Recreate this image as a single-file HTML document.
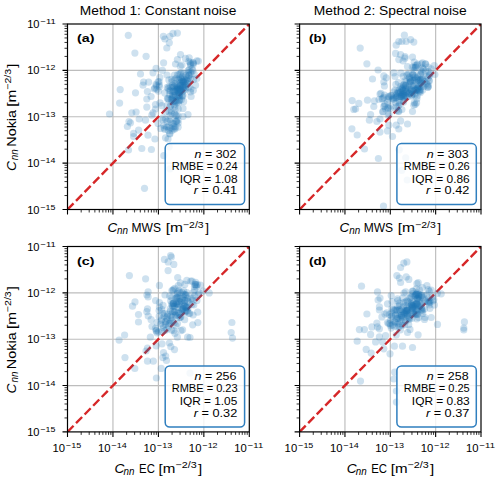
<!DOCTYPE html>
<html><head><meta charset="utf-8"><style>
html,body{margin:0;padding:0;background:#fff;width:500px;height:480px;overflow:hidden}
svg{display:block}
text{font-family:"Liberation Sans", sans-serif;fill:#000}
</style></head><body>
<svg width="500" height="480" viewBox="0 0 500 480">
<rect width="500" height="480" fill="#fff"/>
<path d="M112.95 24.0V209.5M67.5 163.12H249.3M158.40 24.0V209.5M67.5 116.75H249.3M203.85 24.0V209.5M67.5 70.38H249.3" stroke="#bdbdbd" stroke-width="1.15" fill="none"/>
<svg x="67.5" y="24.0" width="181.80" height="185.50" overflow="hidden"><line x1="-45.45" y1="231.88" x2="227.25" y2="-46.38" stroke="#d62728" stroke-width="2.4" stroke-dasharray="8.7 3.53" stroke-dashoffset="-3.72"/></svg>
<g fill="#1f77b4" fill-opacity="0.22"><circle cx="128.3" cy="35.3" r="3.6"/><circle cx="134.9" cy="53.1" r="3.6"/><circle cx="146.1" cy="56.3" r="3.6"/><circle cx="163.4" cy="36.3" r="3.6"/><circle cx="164.9" cy="39.0" r="3.6"/><circle cx="169.9" cy="36.3" r="3.6"/><circle cx="173.0" cy="33.4" r="3.6"/><circle cx="177.4" cy="33.1" r="3.6"/><circle cx="169.3" cy="42.8" r="3.6"/><circle cx="166.8" cy="48.0" r="3.6"/><circle cx="180.5" cy="54.6" r="3.6"/><circle cx="185.5" cy="58.4" r="3.6"/><circle cx="177.4" cy="59.6" r="3.6"/><circle cx="163.6" cy="62.8" r="3.6"/><circle cx="175.5" cy="64.0" r="3.6"/><circle cx="140.5" cy="74.0" r="3.6"/><circle cx="153.0" cy="72.8" r="3.6"/><circle cx="156.1" cy="68.4" r="3.6"/><circle cx="162.4" cy="70.3" r="3.6"/><circle cx="143.6" cy="82.1" r="3.6"/><circle cx="148.6" cy="82.1" r="3.6"/><circle cx="193.0" cy="62.8" r="3.6"/><circle cx="196.8" cy="60.9" r="3.6"/><circle cx="189.2" cy="57.8" r="3.6"/><circle cx="194.2" cy="74.0" r="3.6"/><circle cx="190.5" cy="79.0" r="3.6"/><circle cx="195.5" cy="85.2" r="3.6"/><circle cx="190.5" cy="92.0" r="3.6"/><circle cx="191.1" cy="96.5" r="3.6"/><circle cx="183.0" cy="108.4" r="3.6"/><circle cx="120.2" cy="89.6" r="3.6"/><circle cx="119.6" cy="103.1" r="3.6"/><circle cx="109.5" cy="114.0" r="3.6"/><circle cx="127.4" cy="126.5" r="3.6"/><circle cx="129.0" cy="121.5" r="3.6"/><circle cx="135.5" cy="92.8" r="3.6"/><circle cx="143.0" cy="85.2" r="3.6"/><circle cx="147.4" cy="91.5" r="3.6"/><circle cx="146.8" cy="99.0" r="3.6"/><circle cx="151.1" cy="96.5" r="3.6"/><circle cx="146.8" cy="107.1" r="3.6"/><circle cx="155.5" cy="104.6" r="3.6"/><circle cx="154.2" cy="89.0" r="3.6"/><circle cx="131.8" cy="112.8" r="3.6"/><circle cx="136.1" cy="112.1" r="3.6"/><circle cx="139.2" cy="119.0" r="3.6"/><circle cx="130.5" cy="122.8" r="3.6"/><circle cx="145.5" cy="120.2" r="3.6"/><circle cx="153.0" cy="112.8" r="3.6"/><circle cx="151.8" cy="115.2" r="3.6"/><circle cx="138.6" cy="130.2" r="3.6"/><circle cx="133.6" cy="133.4" r="3.6"/><circle cx="133.6" cy="136.5" r="3.6"/><circle cx="148.0" cy="135.2" r="3.6"/><circle cx="154.9" cy="139.0" r="3.6"/><circle cx="158.0" cy="123.4" r="3.6"/><circle cx="160.5" cy="128.4" r="3.6"/><circle cx="165.5" cy="137.8" r="3.6"/><circle cx="168.0" cy="139.0" r="3.6"/><circle cx="169.9" cy="134.0" r="3.6"/><circle cx="169.9" cy="121.5" r="3.6"/><circle cx="165.5" cy="119.0" r="3.6"/><circle cx="171.8" cy="127.8" r="3.6"/><circle cx="178.0" cy="120.2" r="3.6"/><circle cx="183.0" cy="116.5" r="3.6"/><circle cx="155.5" cy="109.0" r="3.6"/><circle cx="188.0" cy="114.6" r="3.6"/><circle cx="128.5" cy="150.0" r="3.6"/><circle cx="141.8" cy="148.5" r="3.6"/><circle cx="151.4" cy="149.5" r="3.6"/><circle cx="163.8" cy="155.7" r="3.6"/><circle cx="169.2" cy="146.8" r="3.6"/><circle cx="170.0" cy="168.8" r="3.6"/><circle cx="144.5" cy="188.3" r="3.6"/><circle cx="182.1" cy="96.5" r="3.6"/><circle cx="169.4" cy="91.0" r="3.6"/><circle cx="176.9" cy="102.7" r="3.6"/><circle cx="185.3" cy="84.6" r="3.6"/><circle cx="178.9" cy="95.4" r="3.6"/><circle cx="182.2" cy="91.7" r="3.6"/><circle cx="181.9" cy="80.2" r="3.6"/><circle cx="185.1" cy="85.3" r="3.6"/><circle cx="177.0" cy="89.8" r="3.6"/><circle cx="181.6" cy="79.4" r="3.6"/><circle cx="177.3" cy="89.4" r="3.6"/><circle cx="178.3" cy="109.0" r="3.6"/><circle cx="177.4" cy="86.7" r="3.6"/><circle cx="179.2" cy="93.3" r="3.6"/><circle cx="193.3" cy="90.3" r="3.6"/><circle cx="179.6" cy="99.9" r="3.6"/><circle cx="171.7" cy="79.3" r="3.6"/><circle cx="178.8" cy="92.4" r="3.6"/><circle cx="181.3" cy="72.6" r="3.6"/><circle cx="173.7" cy="86.7" r="3.6"/><circle cx="180.1" cy="89.0" r="3.6"/><circle cx="175.8" cy="89.2" r="3.6"/><circle cx="181.3" cy="99.8" r="3.6"/><circle cx="172.4" cy="92.1" r="3.6"/><circle cx="172.1" cy="98.1" r="3.6"/><circle cx="167.9" cy="98.6" r="3.6"/><circle cx="174.1" cy="101.6" r="3.6"/><circle cx="183.7" cy="73.3" r="3.6"/><circle cx="180.4" cy="91.4" r="3.6"/><circle cx="177.5" cy="74.7" r="3.6"/><circle cx="175.1" cy="91.4" r="3.6"/><circle cx="182.3" cy="94.9" r="3.6"/><circle cx="189.2" cy="69.6" r="3.6"/><circle cx="170.8" cy="104.9" r="3.6"/><circle cx="187.8" cy="81.5" r="3.6"/><circle cx="183.1" cy="95.5" r="3.6"/><circle cx="171.9" cy="81.9" r="3.6"/><circle cx="176.9" cy="87.5" r="3.6"/><circle cx="176.1" cy="100.4" r="3.6"/><circle cx="180.3" cy="66.2" r="3.6"/><circle cx="178.5" cy="103.0" r="3.6"/><circle cx="182.4" cy="81.8" r="3.6"/><circle cx="179.5" cy="96.8" r="3.6"/><circle cx="175.9" cy="101.8" r="3.6"/><circle cx="177.9" cy="88.1" r="3.6"/><circle cx="179.9" cy="88.3" r="3.6"/><circle cx="188.5" cy="72.6" r="3.6"/><circle cx="187.6" cy="83.8" r="3.6"/><circle cx="183.7" cy="90.1" r="3.6"/><circle cx="174.9" cy="106.5" r="3.6"/><circle cx="174.5" cy="75.1" r="3.6"/><circle cx="169.1" cy="112.1" r="3.6"/><circle cx="183.5" cy="81.6" r="3.6"/><circle cx="185.1" cy="89.7" r="3.6"/><circle cx="178.9" cy="90.5" r="3.6"/><circle cx="185.6" cy="82.0" r="3.6"/><circle cx="188.4" cy="78.5" r="3.6"/><circle cx="161.8" cy="105.7" r="3.6"/><circle cx="189.1" cy="75.5" r="3.6"/><circle cx="180.4" cy="78.0" r="3.6"/><circle cx="184.0" cy="86.9" r="3.6"/><circle cx="182.8" cy="85.5" r="3.6"/><circle cx="174.8" cy="85.6" r="3.6"/><circle cx="174.9" cy="83.6" r="3.6"/><circle cx="172.2" cy="87.3" r="3.6"/><circle cx="193.5" cy="79.7" r="3.6"/><circle cx="179.0" cy="89.2" r="3.6"/><circle cx="173.8" cy="95.5" r="3.6"/><circle cx="182.8" cy="88.1" r="3.6"/><circle cx="170.5" cy="90.7" r="3.6"/><circle cx="171.1" cy="99.2" r="3.6"/><circle cx="179.1" cy="74.3" r="3.6"/><circle cx="190.9" cy="89.1" r="3.6"/><circle cx="186.1" cy="75.4" r="3.6"/><circle cx="190.2" cy="62.7" r="3.6"/><circle cx="172.8" cy="100.9" r="3.6"/><circle cx="183.7" cy="82.5" r="3.6"/><circle cx="179.3" cy="100.6" r="3.6"/><circle cx="169.9" cy="115.7" r="3.6"/><circle cx="181.3" cy="82.1" r="3.6"/><circle cx="180.0" cy="89.3" r="3.6"/><circle cx="180.2" cy="90.0" r="3.6"/><circle cx="192.8" cy="70.7" r="3.6"/><circle cx="174.9" cy="79.8" r="3.6"/><circle cx="183.6" cy="101.4" r="3.6"/><circle cx="177.4" cy="96.7" r="3.6"/><circle cx="167.5" cy="98.4" r="3.6"/><circle cx="183.6" cy="80.3" r="3.6"/><circle cx="188.2" cy="70.6" r="3.6"/><circle cx="188.8" cy="87.2" r="3.6"/><circle cx="169.0" cy="86.5" r="3.6"/><circle cx="174.2" cy="104.6" r="3.6"/><circle cx="169.7" cy="94.4" r="3.6"/><circle cx="186.8" cy="77.3" r="3.6"/><circle cx="182.4" cy="81.3" r="3.6"/><circle cx="196.9" cy="78.5" r="3.6"/><circle cx="182.3" cy="76.9" r="3.6"/><circle cx="172.5" cy="94.8" r="3.6"/><circle cx="176.9" cy="85.5" r="3.6"/><circle cx="172.6" cy="85.4" r="3.6"/><circle cx="180.1" cy="83.9" r="3.6"/><circle cx="181.1" cy="85.9" r="3.6"/><circle cx="185.1" cy="88.1" r="3.6"/><circle cx="179.9" cy="85.5" r="3.6"/><circle cx="179.3" cy="80.2" r="3.6"/><circle cx="188.8" cy="75.2" r="3.6"/><circle cx="180.5" cy="73.6" r="3.6"/><circle cx="179.5" cy="95.6" r="3.6"/><circle cx="168.9" cy="79.9" r="3.6"/><circle cx="178.4" cy="96.0" r="3.6"/><circle cx="191.1" cy="73.9" r="3.6"/><circle cx="175.9" cy="78.3" r="3.6"/><circle cx="177.4" cy="90.8" r="3.6"/><circle cx="168.2" cy="88.6" r="3.6"/><circle cx="165.8" cy="111.6" r="3.6"/><circle cx="190.8" cy="71.9" r="3.6"/><circle cx="182.8" cy="86.3" r="3.6"/><circle cx="180.4" cy="85.5" r="3.6"/><circle cx="173.2" cy="91.3" r="3.6"/><circle cx="172.6" cy="97.5" r="3.6"/><circle cx="184.0" cy="79.1" r="3.6"/><circle cx="175.3" cy="95.1" r="3.6"/><circle cx="187.3" cy="80.5" r="3.6"/><circle cx="182.0" cy="65.0" r="3.6"/><circle cx="170.6" cy="87.1" r="3.6"/><circle cx="178.5" cy="90.2" r="3.6"/><circle cx="168.8" cy="99.2" r="3.6"/><circle cx="184.3" cy="82.8" r="3.6"/><circle cx="178.3" cy="79.3" r="3.6"/><circle cx="174.2" cy="100.9" r="3.6"/><circle cx="192.1" cy="68.9" r="3.6"/><circle cx="171.8" cy="99.8" r="3.6"/><circle cx="183.4" cy="87.6" r="3.6"/><circle cx="186.4" cy="79.5" r="3.6"/><circle cx="173.9" cy="90.9" r="3.6"/><circle cx="188.8" cy="61.3" r="3.6"/><circle cx="190.4" cy="65.0" r="3.6"/><circle cx="193.4" cy="64.3" r="3.6"/><circle cx="193.4" cy="62.8" r="3.6"/><circle cx="190.7" cy="64.0" r="3.6"/><circle cx="198.4" cy="61.1" r="3.6"/><circle cx="159.2" cy="84.7" r="3.6"/><circle cx="156.5" cy="85.7" r="3.6"/><circle cx="158.5" cy="91.2" r="3.6"/><circle cx="160.0" cy="102.9" r="3.6"/><circle cx="164.8" cy="92.9" r="3.6"/><circle cx="167.2" cy="87.3" r="3.6"/><circle cx="156.0" cy="84.3" r="3.6"/><circle cx="159.4" cy="86.7" r="3.6"/><circle cx="159.8" cy="77.4" r="3.6"/><circle cx="167.0" cy="75.0" r="3.6"/><circle cx="156.8" cy="89.3" r="3.6"/><circle cx="158.1" cy="81.8" r="3.6"/><circle cx="154.8" cy="88.0" r="3.6"/><circle cx="159.1" cy="81.7" r="3.6"/><circle cx="176.2" cy="115.8" r="3.6"/><circle cx="169.7" cy="133.5" r="3.6"/><circle cx="163.9" cy="125.5" r="3.6"/><circle cx="170.1" cy="128.0" r="3.6"/><circle cx="178.1" cy="127.2" r="3.6"/><circle cx="175.1" cy="96.1" r="3.6"/><circle cx="175.2" cy="109.2" r="3.6"/><circle cx="170.2" cy="106.3" r="3.6"/><circle cx="173.7" cy="123.6" r="3.6"/><circle cx="167.1" cy="121.4" r="3.6"/><circle cx="176.0" cy="115.4" r="3.6"/><circle cx="162.9" cy="120.0" r="3.6"/><circle cx="172.0" cy="130.5" r="3.6"/><circle cx="168.3" cy="130.4" r="3.6"/><circle cx="164.8" cy="129.5" r="3.6"/><circle cx="167.9" cy="127.0" r="3.6"/><circle cx="175.0" cy="129.0" r="3.6"/><circle cx="171.7" cy="112.9" r="3.6"/><circle cx="176.7" cy="122.1" r="3.6"/><circle cx="164.2" cy="128.1" r="3.6"/><circle cx="174.0" cy="126.4" r="3.6"/><circle cx="178.1" cy="115.8" r="3.6"/><circle cx="166.9" cy="105.5" r="3.6"/><circle cx="175.3" cy="127.2" r="3.6"/><circle cx="174.4" cy="113.9" r="3.6"/><circle cx="178.2" cy="123.1" r="3.6"/><circle cx="175.8" cy="121.5" r="3.6"/><circle cx="171.2" cy="111.0" r="3.6"/><circle cx="176.6" cy="120.6" r="3.6"/><circle cx="166.6" cy="127.0" r="3.6"/><circle cx="173.9" cy="128.9" r="3.6"/><circle cx="169.9" cy="119.6" r="3.6"/><circle cx="163.0" cy="117.9" r="3.6"/><circle cx="171.9" cy="123.2" r="3.6"/></g>
<rect x="67.5" y="24.0" width="181.80" height="185.50" fill="none" stroke="#000" stroke-width="1.2"/>
<path d="M67.50 209.5v5M67.5 209.50h-5M112.95 209.5v5M67.5 163.12h-5M158.40 209.5v5M67.5 116.75h-5M203.85 209.5v5M67.5 70.38h-5M249.30 209.5v5M67.5 24.00h-5" stroke="#000" stroke-width="1.1"/>
<path d="M81.18 209.5v3M67.5 195.54h-3M89.19 209.5v3M67.5 187.37h-3M94.86 209.5v3M67.5 181.58h-3M99.27 209.5v3M67.5 177.09h-3M102.87 209.5v3M67.5 173.41h-3M105.91 209.5v3M67.5 170.31h-3M108.55 209.5v3M67.5 167.62h-3M110.87 209.5v3M67.5 165.25h-3M126.63 209.5v3M67.5 149.16h-3M134.64 209.5v3M67.5 141.00h-3M140.31 209.5v3M67.5 135.20h-3M144.72 209.5v3M67.5 130.71h-3M148.32 209.5v3M67.5 127.04h-3M151.36 209.5v3M67.5 123.93h-3M154.00 209.5v3M67.5 121.24h-3M156.32 209.5v3M67.5 118.87h-3M172.08 209.5v3M67.5 102.79h-3M180.09 209.5v3M67.5 94.62h-3M185.76 209.5v3M67.5 88.83h-3M190.17 209.5v3M67.5 84.34h-3M193.77 209.5v3M67.5 80.66h-3M196.81 209.5v3M67.5 77.56h-3M199.45 209.5v3M67.5 74.87h-3M201.77 209.5v3M67.5 72.50h-3M217.53 209.5v3M67.5 56.41h-3M225.54 209.5v3M67.5 48.25h-3M231.21 209.5v3M67.5 42.45h-3M235.62 209.5v3M67.5 37.96h-3M239.22 209.5v3M67.5 34.29h-3M242.26 209.5v3M67.5 31.18h-3M244.90 209.5v3M67.5 28.49h-3M247.22 209.5v3M67.5 26.12h-3" stroke="#000" stroke-width="0.8"/>
<g transform="translate(79.79 14.50) scale(1.1098 1)"><text font-size="12.4">Method 1: Constant noise</text></g>
<g transform="translate(27.14 213.50) scale(1.0182 1)"><text font-size="10.9">10</text></g>
<g transform="translate(40.45 209.60) scale(1.1059 1)"><text font-size="8.0">−15</text></g>
<g transform="translate(27.14 167.12) scale(1.0182 1)"><text font-size="10.9">10</text></g>
<g transform="translate(40.45 163.22) scale(1.1059 1)"><text font-size="8.0">−14</text></g>
<g transform="translate(27.14 120.75) scale(1.0182 1)"><text font-size="10.9">10</text></g>
<g transform="translate(40.45 116.85) scale(1.1059 1)"><text font-size="8.0">−13</text></g>
<g transform="translate(27.14 74.38) scale(1.0182 1)"><text font-size="10.9">10</text></g>
<g transform="translate(40.45 70.47) scale(1.1059 1)"><text font-size="8.0">−12</text></g>
<g transform="translate(27.14 28.00) scale(1.0182 1)"><text font-size="10.9">10</text></g>
<g transform="translate(40.41 24.10) scale(1.1750 1)"><text font-size="8.0">−11</text></g>
<g transform="translate(107.50 232.30) scale(1.0667 1)"><text font-size="12.6" font-style="italic">C</text></g>
<g transform="translate(117.07 234.40) scale(0.9318 1)"><text font-size="10.6" font-style="italic">nn</text></g>
<g transform="translate(131.54 232.30) scale(0.9573 1)"><text font-size="12.6">MWS</text></g>
<g transform="translate(165.67 232.30) scale(1.2327 1)"><text font-size="12.6">[m</text></g>
<g transform="translate(183.03 227.90) scale(1.1471 1)"><text font-size="9.1">−2/3</text></g>
<g transform="translate(205.20 232.30) scale(1.0800 1)"><text font-size="12.6">]</text></g>
<g transform="translate(15.90 171.02) rotate(-90) scale(1.0909 1)"><text font-size="12.6" font-style="italic">C</text></g>
<g transform="translate(18.10 160.13) rotate(-90) scale(0.9273 1)"><text font-size="10.6" font-style="italic">nn</text></g>
<g transform="translate(15.90 146.74) rotate(-90) scale(1.1424 1)"><text font-size="12.6">Nokia</text></g>
<g transform="translate(15.90 106.72) rotate(-90) scale(1.2163 1)"><text font-size="12.6">[m</text></g>
<g transform="translate(11.30 89.78) rotate(-90) scale(1.1647 1)"><text font-size="9.1">−2/3</text></g>
<g transform="translate(15.90 67.80) rotate(-90) scale(1.1600 1)"><text font-size="12.6">]</text></g>
<g transform="translate(76.98 42.40) scale(1.2308 1)"><text font-size="11.6" font-weight="bold">(a)</text></g>
<rect x="165.20" y="143.60" width="79.40" height="61.00" rx="4.5" fill="#fff" fill-opacity="0.8" stroke="#2f7fbf" stroke-width="1.5"/>
<g transform="translate(194.59 157.60) scale(1.2209 1)"><text font-size="10.2"><tspan font-style="italic">n</tspan> = 302</text></g>
<g transform="translate(171.69 169.60) scale(1.0828 1)"><text font-size="10.2">RMBE = 0.24</text></g>
<g transform="translate(179.73 183.00) scale(1.1667 1)"><text font-size="10.2">IQR = 1.08</text></g>
<g transform="translate(193.79 194.30) scale(1.2380 1)"><text font-size="10.2"><tspan font-style="italic">r</tspan> = 0.41</text></g>
<path d="M344.95 24.0V209.5M299.6 163.12H481.0M390.30 24.0V209.5M299.6 116.75H481.0M435.65 24.0V209.5M299.6 70.38H481.0" stroke="#bdbdbd" stroke-width="1.15" fill="none"/>
<svg x="299.6" y="24.0" width="181.40" height="185.50" overflow="hidden"><line x1="-45.35" y1="231.88" x2="226.75" y2="-46.38" stroke="#d62728" stroke-width="2.4" stroke-dasharray="8.7 3.53" stroke-dashoffset="-3.72"/></svg>
<g fill="#1f77b4" fill-opacity="0.22"><circle cx="360.2" cy="48.1" r="3.6"/><circle cx="366.9" cy="63.8" r="3.6"/><circle cx="378.1" cy="70.0" r="3.6"/><circle cx="372.5" cy="79.0" r="3.6"/><circle cx="383.8" cy="75.9" r="3.6"/><circle cx="386.2" cy="77.8" r="3.6"/><circle cx="393.8" cy="72.8" r="3.6"/><circle cx="396.2" cy="45.2" r="3.6"/><circle cx="395.6" cy="53.4" r="3.6"/><circle cx="398.8" cy="59.6" r="3.6"/><circle cx="398.8" cy="41.5" r="3.6"/><circle cx="395.0" cy="76.5" r="3.6"/><circle cx="383.8" cy="82.0" r="3.6"/><circle cx="404.4" cy="35.2" r="3.6"/><circle cx="401.9" cy="41.5" r="3.6"/><circle cx="406.2" cy="41.5" r="3.6"/><circle cx="410.6" cy="39.6" r="3.6"/><circle cx="413.8" cy="42.1" r="3.6"/><circle cx="400.6" cy="54.6" r="3.6"/><circle cx="405.0" cy="56.5" r="3.6"/><circle cx="412.5" cy="57.1" r="3.6"/><circle cx="407.5" cy="66.5" r="3.6"/><circle cx="416.9" cy="65.2" r="3.6"/><circle cx="422.5" cy="62.8" r="3.6"/><circle cx="425.6" cy="64.0" r="3.6"/><circle cx="428.1" cy="67.1" r="3.6"/><circle cx="429.4" cy="80.9" r="3.6"/><circle cx="352.2" cy="100.6" r="3.6"/><circle cx="358.8" cy="103.4" r="3.6"/><circle cx="353.8" cy="109.4" r="3.6"/><circle cx="351.9" cy="128.8" r="3.6"/><circle cx="357.2" cy="135.0" r="3.6"/><circle cx="355.6" cy="109.0" r="3.6"/><circle cx="367.5" cy="100.2" r="3.6"/><circle cx="374.4" cy="100.9" r="3.6"/><circle cx="373.8" cy="106.5" r="3.6"/><circle cx="380.0" cy="94.0" r="3.6"/><circle cx="384.4" cy="85.9" r="3.6"/><circle cx="381.9" cy="99.0" r="3.6"/><circle cx="385.6" cy="109.0" r="3.6"/><circle cx="370.6" cy="114.6" r="3.6"/><circle cx="369.4" cy="120.2" r="3.6"/><circle cx="376.9" cy="121.5" r="3.6"/><circle cx="380.0" cy="119.0" r="3.6"/><circle cx="388.8" cy="125.2" r="3.6"/><circle cx="387.5" cy="130.9" r="3.6"/><circle cx="380.0" cy="132.1" r="3.6"/><circle cx="392.5" cy="136.5" r="3.6"/><circle cx="396.2" cy="125.2" r="3.6"/><circle cx="400.6" cy="120.9" r="3.6"/><circle cx="398.8" cy="129.0" r="3.6"/><circle cx="407.5" cy="124.0" r="3.6"/><circle cx="398.8" cy="111.5" r="3.6"/><circle cx="412.5" cy="111.5" r="3.6"/><circle cx="423.8" cy="86.5" r="3.6"/><circle cx="422.5" cy="90.2" r="3.6"/><circle cx="413.8" cy="105.2" r="3.6"/><circle cx="364.5" cy="149.0" r="3.6"/><circle cx="378.4" cy="158.5" r="3.6"/><circle cx="383.5" cy="206.0" r="3.6"/><circle cx="399.3" cy="149.8" r="3.6"/><circle cx="401.7" cy="170.4" r="3.6"/><circle cx="407.2" cy="180.0" r="3.6"/><circle cx="405.7" cy="157.8" r="3.6"/><circle cx="415.2" cy="104.5" r="3.6"/><circle cx="406.7" cy="87.5" r="3.6"/><circle cx="398.3" cy="111.2" r="3.6"/><circle cx="417.8" cy="88.3" r="3.6"/><circle cx="405.6" cy="88.3" r="3.6"/><circle cx="399.8" cy="96.3" r="3.6"/><circle cx="410.6" cy="81.1" r="3.6"/><circle cx="406.0" cy="92.1" r="3.6"/><circle cx="402.8" cy="90.7" r="3.6"/><circle cx="405.6" cy="85.2" r="3.6"/><circle cx="403.5" cy="97.3" r="3.6"/><circle cx="409.6" cy="93.2" r="3.6"/><circle cx="424.7" cy="81.5" r="3.6"/><circle cx="421.4" cy="63.8" r="3.6"/><circle cx="403.2" cy="97.0" r="3.6"/><circle cx="403.6" cy="102.1" r="3.6"/><circle cx="410.2" cy="91.4" r="3.6"/><circle cx="416.7" cy="90.3" r="3.6"/><circle cx="420.3" cy="74.8" r="3.6"/><circle cx="416.9" cy="98.7" r="3.6"/><circle cx="413.7" cy="75.4" r="3.6"/><circle cx="421.1" cy="86.8" r="3.6"/><circle cx="419.4" cy="91.7" r="3.6"/><circle cx="434.9" cy="74.5" r="3.6"/><circle cx="394.1" cy="91.8" r="3.6"/><circle cx="415.1" cy="95.1" r="3.6"/><circle cx="414.7" cy="93.5" r="3.6"/><circle cx="410.3" cy="81.7" r="3.6"/><circle cx="403.6" cy="93.6" r="3.6"/><circle cx="412.3" cy="85.7" r="3.6"/><circle cx="399.6" cy="89.6" r="3.6"/><circle cx="399.4" cy="100.3" r="3.6"/><circle cx="395.9" cy="103.0" r="3.6"/><circle cx="420.6" cy="82.8" r="3.6"/><circle cx="406.0" cy="81.5" r="3.6"/><circle cx="428.0" cy="87.3" r="3.6"/><circle cx="409.4" cy="93.5" r="3.6"/><circle cx="410.6" cy="82.1" r="3.6"/><circle cx="401.6" cy="96.4" r="3.6"/><circle cx="418.0" cy="79.8" r="3.6"/><circle cx="420.9" cy="79.8" r="3.6"/><circle cx="395.9" cy="95.4" r="3.6"/><circle cx="393.7" cy="99.2" r="3.6"/><circle cx="405.6" cy="85.7" r="3.6"/><circle cx="413.4" cy="86.0" r="3.6"/><circle cx="412.1" cy="80.4" r="3.6"/><circle cx="414.0" cy="77.4" r="3.6"/><circle cx="425.5" cy="71.1" r="3.6"/><circle cx="411.2" cy="96.2" r="3.6"/><circle cx="405.7" cy="89.1" r="3.6"/><circle cx="387.5" cy="101.9" r="3.6"/><circle cx="396.9" cy="93.3" r="3.6"/><circle cx="398.4" cy="82.5" r="3.6"/><circle cx="401.3" cy="96.3" r="3.6"/><circle cx="428.4" cy="86.1" r="3.6"/><circle cx="403.6" cy="95.9" r="3.6"/><circle cx="418.2" cy="80.4" r="3.6"/><circle cx="416.0" cy="89.7" r="3.6"/><circle cx="400.0" cy="92.9" r="3.6"/><circle cx="414.0" cy="80.1" r="3.6"/><circle cx="421.8" cy="71.8" r="3.6"/><circle cx="415.1" cy="90.3" r="3.6"/><circle cx="394.1" cy="97.5" r="3.6"/><circle cx="403.4" cy="91.5" r="3.6"/><circle cx="390.0" cy="108.5" r="3.6"/><circle cx="401.7" cy="88.7" r="3.6"/><circle cx="420.0" cy="80.8" r="3.6"/><circle cx="416.5" cy="85.8" r="3.6"/><circle cx="429.7" cy="75.4" r="3.6"/><circle cx="427.9" cy="86.9" r="3.6"/><circle cx="418.9" cy="90.2" r="3.6"/><circle cx="426.9" cy="76.0" r="3.6"/><circle cx="417.6" cy="76.9" r="3.6"/><circle cx="409.3" cy="86.8" r="3.6"/><circle cx="411.8" cy="94.1" r="3.6"/><circle cx="404.1" cy="94.1" r="3.6"/><circle cx="420.9" cy="70.7" r="3.6"/><circle cx="403.2" cy="76.3" r="3.6"/><circle cx="402.4" cy="94.4" r="3.6"/><circle cx="417.9" cy="89.9" r="3.6"/><circle cx="405.3" cy="95.7" r="3.6"/><circle cx="422.4" cy="79.4" r="3.6"/><circle cx="403.5" cy="87.4" r="3.6"/><circle cx="402.9" cy="100.8" r="3.6"/><circle cx="431.2" cy="68.9" r="3.6"/><circle cx="428.9" cy="80.6" r="3.6"/><circle cx="397.9" cy="91.0" r="3.6"/><circle cx="420.3" cy="79.6" r="3.6"/><circle cx="420.4" cy="92.6" r="3.6"/><circle cx="402.3" cy="94.1" r="3.6"/><circle cx="395.9" cy="84.4" r="3.6"/><circle cx="411.9" cy="95.1" r="3.6"/><circle cx="409.5" cy="82.9" r="3.6"/><circle cx="414.4" cy="102.7" r="3.6"/><circle cx="403.8" cy="84.9" r="3.6"/><circle cx="403.3" cy="90.3" r="3.6"/><circle cx="397.8" cy="93.4" r="3.6"/><circle cx="399.2" cy="102.6" r="3.6"/><circle cx="420.1" cy="90.8" r="3.6"/><circle cx="410.0" cy="89.6" r="3.6"/><circle cx="416.8" cy="89.0" r="3.6"/><circle cx="408.5" cy="93.1" r="3.6"/><circle cx="426.3" cy="83.6" r="3.6"/><circle cx="391.4" cy="95.6" r="3.6"/><circle cx="407.1" cy="74.4" r="3.6"/><circle cx="407.0" cy="97.1" r="3.6"/><circle cx="408.7" cy="73.8" r="3.6"/><circle cx="397.1" cy="96.5" r="3.6"/><circle cx="418.5" cy="86.4" r="3.6"/><circle cx="434.3" cy="65.7" r="3.6"/><circle cx="412.7" cy="74.5" r="3.6"/><circle cx="429.2" cy="74.6" r="3.6"/><circle cx="410.8" cy="89.6" r="3.6"/><circle cx="398.7" cy="92.5" r="3.6"/><circle cx="415.2" cy="67.5" r="3.6"/><circle cx="417.8" cy="88.1" r="3.6"/><circle cx="415.4" cy="89.5" r="3.6"/><circle cx="420.6" cy="74.0" r="3.6"/><circle cx="412.9" cy="74.6" r="3.6"/><circle cx="396.3" cy="110.5" r="3.6"/><circle cx="415.1" cy="76.9" r="3.6"/><circle cx="404.9" cy="80.8" r="3.6"/><circle cx="400.7" cy="86.4" r="3.6"/><circle cx="410.0" cy="79.6" r="3.6"/><circle cx="409.7" cy="77.1" r="3.6"/><circle cx="422.3" cy="67.8" r="3.6"/><circle cx="416.4" cy="79.8" r="3.6"/><circle cx="417.3" cy="95.7" r="3.6"/><circle cx="401.7" cy="95.0" r="3.6"/><circle cx="400.6" cy="92.1" r="3.6"/><circle cx="399.1" cy="105.0" r="3.6"/><circle cx="428.0" cy="77.9" r="3.6"/><circle cx="416.3" cy="78.3" r="3.6"/><circle cx="425.4" cy="63.8" r="3.6"/><circle cx="422.8" cy="80.9" r="3.6"/><circle cx="420.2" cy="89.4" r="3.6"/><circle cx="411.5" cy="90.0" r="3.6"/><circle cx="413.8" cy="67.6" r="3.6"/><circle cx="422.2" cy="83.8" r="3.6"/><circle cx="398.0" cy="106.6" r="3.6"/><circle cx="402.2" cy="89.1" r="3.6"/><circle cx="401.9" cy="109.5" r="3.6"/><circle cx="416.1" cy="82.5" r="3.6"/><circle cx="427.7" cy="84.8" r="3.6"/><circle cx="406.5" cy="91.6" r="3.6"/><circle cx="409.0" cy="94.1" r="3.6"/><circle cx="409.4" cy="78.2" r="3.6"/><circle cx="415.8" cy="67.2" r="3.6"/><circle cx="416.6" cy="102.8" r="3.6"/><circle cx="428.6" cy="71.7" r="3.6"/><circle cx="402.4" cy="87.6" r="3.6"/><circle cx="403.9" cy="85.0" r="3.6"/><circle cx="396.3" cy="97.3" r="3.6"/><circle cx="413.1" cy="92.2" r="3.6"/><circle cx="407.1" cy="75.5" r="3.6"/><circle cx="419.8" cy="86.2" r="3.6"/><circle cx="412.9" cy="88.2" r="3.6"/><circle cx="422.5" cy="77.9" r="3.6"/><circle cx="403.9" cy="95.4" r="3.6"/><circle cx="391.0" cy="106.1" r="3.6"/><circle cx="414.0" cy="70.2" r="3.6"/><circle cx="384.6" cy="105.8" r="3.6"/><circle cx="388.0" cy="107.6" r="3.6"/><circle cx="388.3" cy="115.5" r="3.6"/><circle cx="395.7" cy="98.0" r="3.6"/><circle cx="379.0" cy="99.5" r="3.6"/><circle cx="389.1" cy="114.1" r="3.6"/><circle cx="384.9" cy="104.1" r="3.6"/><circle cx="384.5" cy="95.2" r="3.6"/><circle cx="388.7" cy="96.4" r="3.6"/><circle cx="389.0" cy="97.0" r="3.6"/><circle cx="396.2" cy="106.7" r="3.6"/><circle cx="404.8" cy="95.6" r="3.6"/><circle cx="392.8" cy="98.3" r="3.6"/><circle cx="380.9" cy="93.4" r="3.6"/><circle cx="393.0" cy="99.3" r="3.6"/><circle cx="383.7" cy="106.3" r="3.6"/><circle cx="383.8" cy="97.3" r="3.6"/><circle cx="390.9" cy="95.6" r="3.6"/><circle cx="382.6" cy="98.4" r="3.6"/><circle cx="400.1" cy="96.7" r="3.6"/><circle cx="382.8" cy="112.0" r="3.6"/><circle cx="388.4" cy="99.1" r="3.6"/><circle cx="388.0" cy="108.5" r="3.6"/><circle cx="382.9" cy="111.4" r="3.6"/><circle cx="395.0" cy="90.2" r="3.6"/><circle cx="403.1" cy="61.0" r="3.6"/><circle cx="423.4" cy="69.2" r="3.6"/><circle cx="400.9" cy="73.1" r="3.6"/><circle cx="414.2" cy="62.2" r="3.6"/><circle cx="415.5" cy="65.7" r="3.6"/><circle cx="405.0" cy="58.2" r="3.6"/><circle cx="412.3" cy="67.2" r="3.6"/><circle cx="417.6" cy="64.1" r="3.6"/></g>
<rect x="299.6" y="24.0" width="181.40" height="185.50" fill="none" stroke="#000" stroke-width="1.2"/>
<path d="M299.60 209.5v5M299.6 209.50h-5M344.95 209.5v5M299.6 163.12h-5M390.30 209.5v5M299.6 116.75h-5M435.65 209.5v5M299.6 70.38h-5M481.00 209.5v5M299.6 24.00h-5" stroke="#000" stroke-width="1.1"/>
<path d="M313.25 209.5v3M299.6 195.54h-3M321.24 209.5v3M299.6 187.37h-3M326.90 209.5v3M299.6 181.58h-3M331.30 209.5v3M299.6 177.09h-3M334.89 209.5v3M299.6 173.41h-3M337.93 209.5v3M299.6 170.31h-3M340.56 209.5v3M299.6 167.62h-3M342.87 209.5v3M299.6 165.25h-3M358.60 209.5v3M299.6 149.16h-3M366.59 209.5v3M299.6 141.00h-3M372.25 209.5v3M299.6 135.20h-3M376.65 209.5v3M299.6 130.71h-3M380.24 209.5v3M299.6 127.04h-3M383.28 209.5v3M299.6 123.93h-3M385.91 209.5v3M299.6 121.24h-3M388.22 209.5v3M299.6 118.87h-3M403.95 209.5v3M299.6 102.79h-3M411.94 209.5v3M299.6 94.62h-3M417.60 209.5v3M299.6 88.83h-3M422.00 209.5v3M299.6 84.34h-3M425.59 209.5v3M299.6 80.66h-3M428.63 209.5v3M299.6 77.56h-3M431.26 209.5v3M299.6 74.87h-3M433.57 209.5v3M299.6 72.50h-3M449.30 209.5v3M299.6 56.41h-3M457.29 209.5v3M299.6 48.25h-3M462.95 209.5v3M299.6 42.45h-3M467.35 209.5v3M299.6 37.96h-3M470.94 209.5v3M299.6 34.29h-3M473.98 209.5v3M299.6 31.18h-3M476.61 209.5v3M299.6 28.49h-3M478.92 209.5v3M299.6 26.12h-3" stroke="#000" stroke-width="0.8"/>
<g transform="translate(313.78 14.50) scale(1.1151 1)"><text font-size="12.4">Method 2: Spectral noise</text></g>
<g transform="translate(339.60 232.30) scale(1.0667 1)"><text font-size="12.6" font-style="italic">C</text></g>
<g transform="translate(349.17 234.40) scale(0.9318 1)"><text font-size="10.6" font-style="italic">nn</text></g>
<g transform="translate(363.64 232.30) scale(0.9573 1)"><text font-size="12.6">MWS</text></g>
<g transform="translate(397.77 232.30) scale(1.2327 1)"><text font-size="12.6">[m</text></g>
<g transform="translate(415.13 227.90) scale(1.1471 1)"><text font-size="9.1">−2/3</text></g>
<g transform="translate(437.30 232.30) scale(1.0800 1)"><text font-size="12.6">]</text></g>
<g transform="translate(309.12 42.40) scale(1.1636 1)"><text font-size="11.6" font-weight="bold">(b)</text></g>
<rect x="396.90" y="143.60" width="79.40" height="61.00" rx="4.5" fill="#fff" fill-opacity="0.8" stroke="#2f7fbf" stroke-width="1.5"/>
<g transform="translate(426.69 157.60) scale(1.2209 1)"><text font-size="10.2"><tspan font-style="italic">n</tspan> = 303</text></g>
<g transform="translate(403.79 169.60) scale(1.0828 1)"><text font-size="10.2">RMBE = 0.26</text></g>
<g transform="translate(411.83 183.00) scale(1.1667 1)"><text font-size="10.2">IQR = 0.86</text></g>
<g transform="translate(425.89 194.30) scale(1.2471 1)"><text font-size="10.2"><tspan font-style="italic">r</tspan> = 0.42</text></g>
<path d="M112.95 246.5V431.9M67.5 385.55H249.3M158.40 246.5V431.9M67.5 339.20H249.3M203.85 246.5V431.9M67.5 292.85H249.3" stroke="#bdbdbd" stroke-width="1.15" fill="none"/>
<svg x="67.5" y="246.5" width="181.80" height="185.40" overflow="hidden"><line x1="-45.45" y1="231.75" x2="227.25" y2="-46.35" stroke="#d62728" stroke-width="2.4" stroke-dasharray="8.7 3.53" stroke-dashoffset="-3.72"/></svg>
<g fill="#1f77b4" fill-opacity="0.22"><circle cx="129.4" cy="275.6" r="3.6"/><circle cx="145.6" cy="278.8" r="3.6"/><circle cx="159.4" cy="285.4" r="3.6"/><circle cx="148.1" cy="291.9" r="3.6"/><circle cx="146.9" cy="295.0" r="3.6"/><circle cx="148.1" cy="297.0" r="3.6"/><circle cx="135.0" cy="301.9" r="3.6"/><circle cx="132.5" cy="306.2" r="3.6"/><circle cx="155.6" cy="300.6" r="3.6"/><circle cx="159.4" cy="302.5" r="3.6"/><circle cx="165.0" cy="295.0" r="3.6"/><circle cx="164.4" cy="259.4" r="3.6"/><circle cx="170.6" cy="255.6" r="3.6"/><circle cx="168.1" cy="261.9" r="3.6"/><circle cx="168.1" cy="270.6" r="3.6"/><circle cx="173.8" cy="264.4" r="3.6"/><circle cx="171.9" cy="290.6" r="3.6"/><circle cx="147.5" cy="308.8" r="3.6"/><circle cx="177.7" cy="277.5" r="3.6"/><circle cx="186.8" cy="280.4" r="3.6"/><circle cx="190.8" cy="281.2" r="3.6"/><circle cx="194.8" cy="284.4" r="3.6"/><circle cx="196.4" cy="286.8" r="3.6"/><circle cx="200.4" cy="285.2" r="3.6"/><circle cx="209.2" cy="292.9" r="3.6"/><circle cx="174.8" cy="288.4" r="3.6"/><circle cx="138.5" cy="314.5" r="3.6"/><circle cx="138.5" cy="322.0" r="3.6"/><circle cx="124.6" cy="335.0" r="3.6"/><circle cx="119.1" cy="340.1" r="3.6"/><circle cx="125.0" cy="357.6" r="3.6"/><circle cx="134.8" cy="368.5" r="3.6"/><circle cx="146.8" cy="311.7" r="3.6"/><circle cx="148.2" cy="316.0" r="3.6"/><circle cx="151.1" cy="319.7" r="3.6"/><circle cx="155.5" cy="328.4" r="3.6"/><circle cx="150.4" cy="337.2" r="3.6"/><circle cx="157.0" cy="332.8" r="3.6"/><circle cx="163.5" cy="327.7" r="3.6"/><circle cx="160.6" cy="324.0" r="3.6"/><circle cx="168.6" cy="326.2" r="3.6"/><circle cx="173.8" cy="330.6" r="3.6"/><circle cx="181.0" cy="330.6" r="3.6"/><circle cx="177.4" cy="337.2" r="3.6"/><circle cx="187.6" cy="337.2" r="3.6"/><circle cx="192.7" cy="324.8" r="3.6"/><circle cx="197.8" cy="322.6" r="3.6"/><circle cx="162.0" cy="343.8" r="3.6"/><circle cx="156.2" cy="346.0" r="3.6"/><circle cx="169.4" cy="343.0" r="3.6"/><circle cx="170.8" cy="346.7" r="3.6"/><circle cx="174.5" cy="349.6" r="3.6"/><circle cx="147.5" cy="348.1" r="3.6"/><circle cx="146.0" cy="351.0" r="3.6"/><circle cx="163.5" cy="352.5" r="3.6"/><circle cx="165.7" cy="356.1" r="3.6"/><circle cx="162.8" cy="357.6" r="3.6"/><circle cx="147.5" cy="361.2" r="3.6"/><circle cx="153.3" cy="361.2" r="3.6"/><circle cx="166.5" cy="360.5" r="3.6"/><circle cx="193.1" cy="292.5" r="3.6"/><circle cx="193.8" cy="305.0" r="3.6"/><circle cx="193.1" cy="315.0" r="3.6"/><circle cx="190.0" cy="337.5" r="3.6"/><circle cx="231.9" cy="322.5" r="3.6"/><circle cx="231.2" cy="332.5" r="3.6"/><circle cx="232.5" cy="338.1" r="3.6"/><circle cx="161.2" cy="368.4" r="3.6"/><circle cx="156.4" cy="378.0" r="3.6"/><circle cx="190.0" cy="373.2" r="3.6"/><circle cx="171.4" cy="257.0" r="3.6"/><circle cx="194.5" cy="286.5" r="3.6"/><circle cx="184.8" cy="284.4" r="3.6"/><circle cx="173.0" cy="304.2" r="3.6"/><circle cx="182.6" cy="298.8" r="3.6"/><circle cx="196.0" cy="285.2" r="3.6"/><circle cx="175.9" cy="303.8" r="3.6"/><circle cx="178.4" cy="297.6" r="3.6"/><circle cx="186.8" cy="292.6" r="3.6"/><circle cx="174.4" cy="306.7" r="3.6"/><circle cx="170.5" cy="311.1" r="3.6"/><circle cx="189.0" cy="313.5" r="3.6"/><circle cx="172.3" cy="305.7" r="3.6"/><circle cx="184.8" cy="305.7" r="3.6"/><circle cx="161.7" cy="319.1" r="3.6"/><circle cx="188.1" cy="307.9" r="3.6"/><circle cx="185.9" cy="294.6" r="3.6"/><circle cx="175.9" cy="315.1" r="3.6"/><circle cx="183.2" cy="308.8" r="3.6"/><circle cx="178.3" cy="285.7" r="3.6"/><circle cx="181.8" cy="310.6" r="3.6"/><circle cx="177.4" cy="293.7" r="3.6"/><circle cx="179.5" cy="303.9" r="3.6"/><circle cx="172.3" cy="320.6" r="3.6"/><circle cx="185.0" cy="312.3" r="3.6"/><circle cx="176.2" cy="296.7" r="3.6"/><circle cx="178.4" cy="312.5" r="3.6"/><circle cx="177.2" cy="297.5" r="3.6"/><circle cx="177.0" cy="312.9" r="3.6"/><circle cx="194.5" cy="290.2" r="3.6"/><circle cx="192.8" cy="300.2" r="3.6"/><circle cx="192.1" cy="281.0" r="3.6"/><circle cx="180.8" cy="317.0" r="3.6"/><circle cx="195.6" cy="282.4" r="3.6"/><circle cx="173.5" cy="303.2" r="3.6"/><circle cx="159.1" cy="310.6" r="3.6"/><circle cx="170.7" cy="300.8" r="3.6"/><circle cx="167.7" cy="316.0" r="3.6"/><circle cx="172.9" cy="290.5" r="3.6"/><circle cx="170.0" cy="323.0" r="3.6"/><circle cx="180.3" cy="317.3" r="3.6"/><circle cx="173.2" cy="303.2" r="3.6"/><circle cx="182.1" cy="292.3" r="3.6"/><circle cx="159.4" cy="307.1" r="3.6"/><circle cx="183.2" cy="296.9" r="3.6"/><circle cx="181.5" cy="309.4" r="3.6"/><circle cx="180.4" cy="282.9" r="3.6"/><circle cx="187.3" cy="311.2" r="3.6"/><circle cx="174.8" cy="311.8" r="3.6"/><circle cx="184.5" cy="303.0" r="3.6"/><circle cx="187.0" cy="306.8" r="3.6"/><circle cx="187.7" cy="298.0" r="3.6"/><circle cx="184.2" cy="306.3" r="3.6"/><circle cx="176.0" cy="325.9" r="3.6"/><circle cx="195.6" cy="284.4" r="3.6"/><circle cx="188.4" cy="301.9" r="3.6"/><circle cx="163.0" cy="305.4" r="3.6"/><circle cx="183.6" cy="290.8" r="3.6"/><circle cx="183.5" cy="308.2" r="3.6"/><circle cx="161.2" cy="320.5" r="3.6"/><circle cx="174.3" cy="311.6" r="3.6"/><circle cx="169.3" cy="323.6" r="3.6"/><circle cx="161.7" cy="309.4" r="3.6"/><circle cx="176.8" cy="297.5" r="3.6"/><circle cx="171.0" cy="320.9" r="3.6"/><circle cx="179.9" cy="298.7" r="3.6"/><circle cx="171.6" cy="304.0" r="3.6"/><circle cx="190.9" cy="298.9" r="3.6"/><circle cx="177.8" cy="292.2" r="3.6"/><circle cx="194.7" cy="295.6" r="3.6"/><circle cx="172.7" cy="311.4" r="3.6"/><circle cx="177.8" cy="307.6" r="3.6"/><circle cx="169.7" cy="296.1" r="3.6"/><circle cx="184.6" cy="300.7" r="3.6"/><circle cx="183.9" cy="294.4" r="3.6"/><circle cx="185.1" cy="294.9" r="3.6"/><circle cx="170.2" cy="308.9" r="3.6"/><circle cx="186.2" cy="307.5" r="3.6"/><circle cx="184.6" cy="319.7" r="3.6"/><circle cx="203.2" cy="291.1" r="3.6"/><circle cx="185.0" cy="300.6" r="3.6"/><circle cx="179.3" cy="317.7" r="3.6"/><circle cx="172.0" cy="313.9" r="3.6"/><circle cx="164.4" cy="316.2" r="3.6"/><circle cx="186.0" cy="307.6" r="3.6"/><circle cx="197.7" cy="312.2" r="3.6"/><circle cx="177.9" cy="301.5" r="3.6"/><circle cx="183.0" cy="309.8" r="3.6"/><circle cx="187.3" cy="301.2" r="3.6"/><circle cx="189.8" cy="313.5" r="3.6"/><circle cx="192.0" cy="304.5" r="3.6"/><circle cx="179.8" cy="292.7" r="3.6"/><circle cx="179.0" cy="290.7" r="3.6"/><circle cx="184.9" cy="311.4" r="3.6"/><circle cx="182.3" cy="309.2" r="3.6"/><circle cx="167.5" cy="319.7" r="3.6"/><circle cx="176.7" cy="304.0" r="3.6"/><circle cx="198.4" cy="294.7" r="3.6"/><circle cx="199.1" cy="292.8" r="3.6"/><circle cx="186.9" cy="310.6" r="3.6"/><circle cx="175.7" cy="298.5" r="3.6"/><circle cx="173.6" cy="303.7" r="3.6"/><circle cx="181.8" cy="302.7" r="3.6"/><circle cx="180.0" cy="301.7" r="3.6"/><circle cx="186.0" cy="295.7" r="3.6"/><circle cx="197.5" cy="284.6" r="3.6"/><circle cx="197.0" cy="300.4" r="3.6"/><circle cx="178.0" cy="304.5" r="3.6"/><circle cx="192.2" cy="298.2" r="3.6"/><circle cx="173.4" cy="289.4" r="3.6"/><circle cx="181.4" cy="300.8" r="3.6"/><circle cx="171.7" cy="297.5" r="3.6"/><circle cx="179.1" cy="313.7" r="3.6"/><circle cx="174.8" cy="306.2" r="3.6"/><circle cx="167.6" cy="314.4" r="3.6"/><circle cx="158.5" cy="331.8" r="3.6"/><circle cx="173.1" cy="306.5" r="3.6"/><circle cx="182.6" cy="329.8" r="3.6"/><circle cx="172.0" cy="317.4" r="3.6"/><circle cx="166.1" cy="321.5" r="3.6"/><circle cx="165.5" cy="324.3" r="3.6"/><circle cx="159.2" cy="316.2" r="3.6"/><circle cx="156.5" cy="330.2" r="3.6"/><circle cx="164.8" cy="313.3" r="3.6"/><circle cx="178.3" cy="315.7" r="3.6"/><circle cx="166.9" cy="329.2" r="3.6"/><circle cx="165.0" cy="330.6" r="3.6"/><circle cx="174.2" cy="322.7" r="3.6"/><circle cx="165.2" cy="321.8" r="3.6"/><circle cx="171.6" cy="330.1" r="3.6"/><circle cx="166.4" cy="317.8" r="3.6"/><circle cx="174.9" cy="333.3" r="3.6"/><circle cx="171.0" cy="316.0" r="3.6"/><circle cx="177.5" cy="323.5" r="3.6"/><circle cx="185.3" cy="306.6" r="3.6"/><circle cx="157.0" cy="322.3" r="3.6"/><circle cx="162.0" cy="331.7" r="3.6"/><circle cx="175.1" cy="315.1" r="3.6"/><circle cx="178.1" cy="303.9" r="3.6"/><circle cx="152.0" cy="326.5" r="3.6"/><circle cx="156.2" cy="330.9" r="3.6"/><circle cx="163.0" cy="325.5" r="3.6"/><circle cx="162.5" cy="313.2" r="3.6"/></g>
<rect x="67.5" y="246.5" width="181.80" height="185.40" fill="none" stroke="#000" stroke-width="1.2"/>
<path d="M67.50 431.9v5M67.5 431.90h-5M112.95 431.9v5M67.5 385.55h-5M158.40 431.9v5M67.5 339.20h-5M203.85 431.9v5M67.5 292.85h-5M249.30 431.9v5M67.5 246.50h-5" stroke="#000" stroke-width="1.1"/>
<path d="M81.18 431.9v3M67.5 417.95h-3M89.19 431.9v3M67.5 409.79h-3M94.86 431.9v3M67.5 403.99h-3M99.27 431.9v3M67.5 399.50h-3M102.87 431.9v3M67.5 395.83h-3M105.91 431.9v3M67.5 392.73h-3M108.55 431.9v3M67.5 390.04h-3M110.87 431.9v3M67.5 387.67h-3M126.63 431.9v3M67.5 371.60h-3M134.64 431.9v3M67.5 363.44h-3M140.31 431.9v3M67.5 357.64h-3M144.72 431.9v3M67.5 353.15h-3M148.32 431.9v3M67.5 349.48h-3M151.36 431.9v3M67.5 346.38h-3M154.00 431.9v3M67.5 343.69h-3M156.32 431.9v3M67.5 341.32h-3M172.08 431.9v3M67.5 325.25h-3M180.09 431.9v3M67.5 317.09h-3M185.76 431.9v3M67.5 311.29h-3M190.17 431.9v3M67.5 306.80h-3M193.77 431.9v3M67.5 303.13h-3M196.81 431.9v3M67.5 300.03h-3M199.45 431.9v3M67.5 297.34h-3M201.77 431.9v3M67.5 294.97h-3M217.53 431.9v3M67.5 278.90h-3M225.54 431.9v3M67.5 270.74h-3M231.21 431.9v3M67.5 264.94h-3M235.62 431.9v3M67.5 260.45h-3M239.22 431.9v3M67.5 256.78h-3M242.26 431.9v3M67.5 253.68h-3M244.90 431.9v3M67.5 250.99h-3M247.22 431.9v3M67.5 248.62h-3" stroke="#000" stroke-width="0.8"/>
<g transform="translate(27.14 435.90) scale(1.0182 1)"><text font-size="10.9">10</text></g>
<g transform="translate(40.45 432.00) scale(1.1059 1)"><text font-size="8.0">−15</text></g>
<g transform="translate(27.14 389.55) scale(1.0182 1)"><text font-size="10.9">10</text></g>
<g transform="translate(40.45 385.65) scale(1.1059 1)"><text font-size="8.0">−14</text></g>
<g transform="translate(27.14 343.20) scale(1.0182 1)"><text font-size="10.9">10</text></g>
<g transform="translate(40.45 339.30) scale(1.1059 1)"><text font-size="8.0">−13</text></g>
<g transform="translate(27.14 296.85) scale(1.0182 1)"><text font-size="10.9">10</text></g>
<g transform="translate(40.45 292.95) scale(1.1059 1)"><text font-size="8.0">−12</text></g>
<g transform="translate(27.14 250.50) scale(1.0182 1)"><text font-size="10.9">10</text></g>
<g transform="translate(40.41 246.60) scale(1.1750 1)"><text font-size="8.0">−11</text></g>
<g transform="translate(52.52 451.70) scale(1.0364 1)"><text font-size="10.9">10</text></g>
<g transform="translate(66.04 447.80) scale(1.1216 1)"><text font-size="8.0">−15</text></g>
<g transform="translate(97.97 451.70) scale(1.0364 1)"><text font-size="10.9">10</text></g>
<g transform="translate(111.49 447.80) scale(1.1216 1)"><text font-size="8.0">−14</text></g>
<g transform="translate(143.42 451.70) scale(1.0364 1)"><text font-size="10.9">10</text></g>
<g transform="translate(156.94 447.80) scale(1.1216 1)"><text font-size="8.0">−13</text></g>
<g transform="translate(188.87 451.70) scale(1.0364 1)"><text font-size="10.9">10</text></g>
<g transform="translate(202.39 447.80) scale(1.1216 1)"><text font-size="8.0">−12</text></g>
<g transform="translate(234.32 451.70) scale(1.0364 1)"><text font-size="10.9">10</text></g>
<g transform="translate(247.80 447.80) scale(1.1917 1)"><text font-size="8.0">−11</text></g>
<g transform="translate(114.58 472.60) scale(1.0909 1)"><text font-size="12.6" font-style="italic">C</text></g>
<g transform="translate(123.57 474.60) scale(0.9273 1)"><text font-size="10.6" font-style="italic">nn</text></g>
<g transform="translate(139.10 472.60) scale(0.9000 1)"><text font-size="12.6">EC</text></g>
<g transform="translate(158.60 472.60) scale(1.2000 1)"><text font-size="12.6">[m</text></g>
<g transform="translate(175.41 467.80) scale(1.1824 1)"><text font-size="9.1">−2/3</text></g>
<g transform="translate(197.90 472.60) scale(1.2000 1)"><text font-size="12.6">]</text></g>
<g transform="translate(15.90 393.42) rotate(-90) scale(1.0909 1)"><text font-size="12.6" font-style="italic">C</text></g>
<g transform="translate(18.10 382.53) rotate(-90) scale(0.9273 1)"><text font-size="10.6" font-style="italic">nn</text></g>
<g transform="translate(15.90 369.14) rotate(-90) scale(1.1424 1)"><text font-size="12.6">Nokia</text></g>
<g transform="translate(15.90 329.12) rotate(-90) scale(1.2163 1)"><text font-size="12.6">[m</text></g>
<g transform="translate(11.30 312.18) rotate(-90) scale(1.1647 1)"><text font-size="9.1">−2/3</text></g>
<g transform="translate(15.90 290.20) rotate(-90) scale(1.1600 1)"><text font-size="12.6">]</text></g>
<g transform="translate(76.98 264.80) scale(1.2308 1)"><text font-size="11.6" font-weight="bold">(c)</text></g>
<rect x="165.20" y="366.00" width="79.40" height="61.00" rx="4.5" fill="#fff" fill-opacity="0.8" stroke="#2f7fbf" stroke-width="1.5"/>
<g transform="translate(194.59 380.00) scale(1.2209 1)"><text font-size="10.2"><tspan font-style="italic">n</tspan> = 256</text></g>
<g transform="translate(171.69 392.00) scale(1.0828 1)"><text font-size="10.2">RMBE = 0.23</text></g>
<g transform="translate(179.74 405.40) scale(1.1606 1)"><text font-size="10.2">IQR = 1.05</text></g>
<g transform="translate(193.79 416.70) scale(1.2471 1)"><text font-size="10.2"><tspan font-style="italic">r</tspan> = 0.32</text></g>
<path d="M344.95 246.5V431.9M299.6 385.55H481.0M390.30 246.5V431.9M299.6 339.20H481.0M435.65 246.5V431.9M299.6 292.85H481.0" stroke="#bdbdbd" stroke-width="1.15" fill="none"/>
<svg x="299.6" y="246.5" width="181.40" height="185.40" overflow="hidden"><line x1="-45.35" y1="231.75" x2="226.75" y2="-46.35" stroke="#d62728" stroke-width="2.4" stroke-dasharray="8.7 3.53" stroke-dashoffset="-3.72"/></svg>
<g fill="#1f77b4" fill-opacity="0.22"><circle cx="361.5" cy="286.2" r="3.6"/><circle cx="377.5" cy="291.9" r="3.6"/><circle cx="380.0" cy="298.1" r="3.6"/><circle cx="378.1" cy="300.0" r="3.6"/><circle cx="379.4" cy="306.9" r="3.6"/><circle cx="387.5" cy="303.8" r="3.6"/><circle cx="391.2" cy="295.6" r="3.6"/><circle cx="400.6" cy="267.5" r="3.6"/><circle cx="403.8" cy="263.1" r="3.6"/><circle cx="406.9" cy="261.9" r="3.6"/><circle cx="396.9" cy="275.6" r="3.6"/><circle cx="399.4" cy="278.1" r="3.6"/><circle cx="400.6" cy="282.5" r="3.6"/><circle cx="406.2" cy="276.9" r="3.6"/><circle cx="408.8" cy="279.4" r="3.6"/><circle cx="397.5" cy="298.8" r="3.6"/><circle cx="426.9" cy="285.5" r="3.6"/><circle cx="422.5" cy="287.5" r="3.6"/><circle cx="416.2" cy="288.8" r="3.6"/><circle cx="431.2" cy="290.0" r="3.6"/><circle cx="441.2" cy="293.8" r="3.6"/><circle cx="379.4" cy="310.0" r="3.6"/><circle cx="366.9" cy="314.0" r="3.6"/><circle cx="381.9" cy="316.9" r="3.6"/><circle cx="376.9" cy="323.1" r="3.6"/><circle cx="371.9" cy="326.9" r="3.6"/><circle cx="359.4" cy="329.6" r="3.6"/><circle cx="364.4" cy="329.6" r="3.6"/><circle cx="379.4" cy="328.8" r="3.6"/><circle cx="377.5" cy="326.9" r="3.6"/><circle cx="370.6" cy="334.4" r="3.6"/><circle cx="379.4" cy="336.9" r="3.6"/><circle cx="385.6" cy="335.6" r="3.6"/><circle cx="357.2" cy="341.2" r="3.6"/><circle cx="375.6" cy="341.9" r="3.6"/><circle cx="382.5" cy="341.9" r="3.6"/><circle cx="366.2" cy="349.4" r="3.6"/><circle cx="371.2" cy="353.1" r="3.6"/><circle cx="383.8" cy="348.8" r="3.6"/><circle cx="394.4" cy="346.2" r="3.6"/><circle cx="390.0" cy="353.8" r="3.6"/><circle cx="387.5" cy="322.5" r="3.6"/><circle cx="431.2" cy="317.5" r="3.6"/><circle cx="425.0" cy="317.5" r="3.6"/><circle cx="416.9" cy="318.8" r="3.6"/><circle cx="437.5" cy="324.4" r="3.6"/><circle cx="418.1" cy="334.8" r="3.6"/><circle cx="410.0" cy="329.4" r="3.6"/><circle cx="407.5" cy="332.5" r="3.6"/><circle cx="402.5" cy="346.2" r="3.6"/><circle cx="412.5" cy="347.5" r="3.6"/><circle cx="396.2" cy="335.0" r="3.6"/><circle cx="360.5" cy="381.1" r="3.6"/><circle cx="394.7" cy="372.2" r="3.6"/><circle cx="393.8" cy="379.0" r="3.6"/><circle cx="396.4" cy="391.0" r="3.6"/><circle cx="396.4" cy="402.1" r="3.6"/><circle cx="464.4" cy="321.9" r="3.6"/><circle cx="463.8" cy="328.1" r="3.6"/><circle cx="463.8" cy="330.0" r="3.6"/><circle cx="417.5" cy="298.5" r="3.6"/><circle cx="399.2" cy="326.4" r="3.6"/><circle cx="428.3" cy="289.6" r="3.6"/><circle cx="419.1" cy="300.6" r="3.6"/><circle cx="429.4" cy="291.4" r="3.6"/><circle cx="418.7" cy="317.4" r="3.6"/><circle cx="411.8" cy="312.1" r="3.6"/><circle cx="437.4" cy="293.3" r="3.6"/><circle cx="410.2" cy="297.7" r="3.6"/><circle cx="414.7" cy="295.6" r="3.6"/><circle cx="407.6" cy="309.2" r="3.6"/><circle cx="406.9" cy="300.8" r="3.6"/><circle cx="392.1" cy="301.5" r="3.6"/><circle cx="416.6" cy="303.8" r="3.6"/><circle cx="432.4" cy="296.9" r="3.6"/><circle cx="416.0" cy="313.6" r="3.6"/><circle cx="396.8" cy="309.9" r="3.6"/><circle cx="418.8" cy="296.9" r="3.6"/><circle cx="409.4" cy="318.3" r="3.6"/><circle cx="415.6" cy="295.4" r="3.6"/><circle cx="416.6" cy="294.7" r="3.6"/><circle cx="413.6" cy="302.9" r="3.6"/><circle cx="388.6" cy="323.6" r="3.6"/><circle cx="417.5" cy="305.8" r="3.6"/><circle cx="419.4" cy="294.4" r="3.6"/><circle cx="416.3" cy="310.6" r="3.6"/><circle cx="433.0" cy="300.8" r="3.6"/><circle cx="416.5" cy="303.5" r="3.6"/><circle cx="407.4" cy="318.2" r="3.6"/><circle cx="402.4" cy="317.5" r="3.6"/><circle cx="414.0" cy="307.6" r="3.6"/><circle cx="428.9" cy="303.1" r="3.6"/><circle cx="412.5" cy="291.0" r="3.6"/><circle cx="390.7" cy="325.7" r="3.6"/><circle cx="434.4" cy="304.9" r="3.6"/><circle cx="421.4" cy="308.8" r="3.6"/><circle cx="418.8" cy="296.3" r="3.6"/><circle cx="421.3" cy="295.8" r="3.6"/><circle cx="428.1" cy="301.5" r="3.6"/><circle cx="417.1" cy="299.1" r="3.6"/><circle cx="418.2" cy="282.7" r="3.6"/><circle cx="412.9" cy="291.4" r="3.6"/><circle cx="408.0" cy="301.9" r="3.6"/><circle cx="400.4" cy="319.3" r="3.6"/><circle cx="416.9" cy="314.2" r="3.6"/><circle cx="406.6" cy="310.9" r="3.6"/><circle cx="412.2" cy="304.4" r="3.6"/><circle cx="405.8" cy="321.2" r="3.6"/><circle cx="412.9" cy="314.2" r="3.6"/><circle cx="420.4" cy="303.5" r="3.6"/><circle cx="433.8" cy="299.7" r="3.6"/><circle cx="412.2" cy="308.0" r="3.6"/><circle cx="406.0" cy="311.9" r="3.6"/><circle cx="421.4" cy="310.3" r="3.6"/><circle cx="405.6" cy="301.9" r="3.6"/><circle cx="397.8" cy="300.6" r="3.6"/><circle cx="394.5" cy="321.5" r="3.6"/><circle cx="424.5" cy="319.4" r="3.6"/><circle cx="391.2" cy="328.1" r="3.6"/><circle cx="412.0" cy="318.5" r="3.6"/><circle cx="394.5" cy="322.0" r="3.6"/><circle cx="417.7" cy="314.4" r="3.6"/><circle cx="413.7" cy="313.0" r="3.6"/><circle cx="399.4" cy="305.5" r="3.6"/><circle cx="422.3" cy="311.1" r="3.6"/><circle cx="430.1" cy="302.0" r="3.6"/><circle cx="401.7" cy="315.6" r="3.6"/><circle cx="412.6" cy="306.4" r="3.6"/><circle cx="419.0" cy="295.8" r="3.6"/><circle cx="416.0" cy="309.1" r="3.6"/><circle cx="399.8" cy="309.6" r="3.6"/><circle cx="399.3" cy="309.8" r="3.6"/><circle cx="415.8" cy="306.4" r="3.6"/><circle cx="411.5" cy="305.0" r="3.6"/><circle cx="406.1" cy="305.5" r="3.6"/><circle cx="417.3" cy="298.3" r="3.6"/><circle cx="401.8" cy="315.0" r="3.6"/><circle cx="394.3" cy="326.2" r="3.6"/><circle cx="395.5" cy="322.6" r="3.6"/><circle cx="411.3" cy="296.6" r="3.6"/><circle cx="404.6" cy="325.0" r="3.6"/><circle cx="407.8" cy="315.2" r="3.6"/><circle cx="402.4" cy="325.1" r="3.6"/><circle cx="428.7" cy="298.2" r="3.6"/><circle cx="409.7" cy="307.1" r="3.6"/><circle cx="404.6" cy="313.8" r="3.6"/><circle cx="401.0" cy="315.6" r="3.6"/><circle cx="417.0" cy="303.6" r="3.6"/><circle cx="426.6" cy="295.0" r="3.6"/><circle cx="412.3" cy="301.7" r="3.6"/><circle cx="417.3" cy="292.9" r="3.6"/><circle cx="408.7" cy="324.7" r="3.6"/><circle cx="406.7" cy="310.7" r="3.6"/><circle cx="424.9" cy="301.4" r="3.6"/><circle cx="386.7" cy="312.8" r="3.6"/><circle cx="417.6" cy="304.8" r="3.6"/><circle cx="416.9" cy="283.7" r="3.6"/><circle cx="415.2" cy="312.9" r="3.6"/><circle cx="424.5" cy="309.0" r="3.6"/><circle cx="429.9" cy="308.3" r="3.6"/><circle cx="412.2" cy="308.6" r="3.6"/><circle cx="407.7" cy="314.0" r="3.6"/><circle cx="405.6" cy="310.5" r="3.6"/><circle cx="419.4" cy="289.9" r="3.6"/><circle cx="411.3" cy="305.5" r="3.6"/><circle cx="412.5" cy="305.6" r="3.6"/><circle cx="399.3" cy="303.2" r="3.6"/><circle cx="428.7" cy="302.2" r="3.6"/><circle cx="400.6" cy="311.3" r="3.6"/><circle cx="395.2" cy="315.0" r="3.6"/><circle cx="404.0" cy="293.0" r="3.6"/><circle cx="403.5" cy="314.4" r="3.6"/><circle cx="405.4" cy="320.7" r="3.6"/><circle cx="412.0" cy="307.9" r="3.6"/><circle cx="399.1" cy="317.1" r="3.6"/><circle cx="413.9" cy="305.0" r="3.6"/><circle cx="409.2" cy="319.5" r="3.6"/><circle cx="392.4" cy="324.9" r="3.6"/><circle cx="395.6" cy="315.2" r="3.6"/><circle cx="406.6" cy="313.2" r="3.6"/><circle cx="398.1" cy="327.4" r="3.6"/><circle cx="419.6" cy="305.5" r="3.6"/><circle cx="406.6" cy="308.3" r="3.6"/><circle cx="409.3" cy="298.4" r="3.6"/><circle cx="395.4" cy="309.8" r="3.6"/><circle cx="421.7" cy="295.1" r="3.6"/><circle cx="417.9" cy="309.9" r="3.6"/><circle cx="424.9" cy="299.9" r="3.6"/><circle cx="391.4" cy="316.6" r="3.6"/><circle cx="397.2" cy="310.3" r="3.6"/><circle cx="410.4" cy="312.3" r="3.6"/><circle cx="390.5" cy="320.1" r="3.6"/><circle cx="416.1" cy="314.5" r="3.6"/><circle cx="423.4" cy="295.1" r="3.6"/><circle cx="416.4" cy="294.1" r="3.6"/><circle cx="409.0" cy="317.6" r="3.6"/><circle cx="398.0" cy="318.7" r="3.6"/><circle cx="415.6" cy="304.6" r="3.6"/><circle cx="412.4" cy="293.9" r="3.6"/><circle cx="421.4" cy="307.1" r="3.6"/><circle cx="397.3" cy="316.8" r="3.6"/><circle cx="407.2" cy="310.6" r="3.6"/><circle cx="422.7" cy="297.6" r="3.6"/><circle cx="402.7" cy="297.9" r="3.6"/><circle cx="391.9" cy="308.4" r="3.6"/><circle cx="403.5" cy="302.7" r="3.6"/><circle cx="416.0" cy="294.3" r="3.6"/><circle cx="397.7" cy="306.2" r="3.6"/><circle cx="422.7" cy="313.4" r="3.6"/><circle cx="418.7" cy="299.2" r="3.6"/><circle cx="401.9" cy="309.6" r="3.6"/><circle cx="403.4" cy="307.2" r="3.6"/><circle cx="405.3" cy="313.6" r="3.6"/><circle cx="429.4" cy="305.0" r="3.6"/><circle cx="411.3" cy="303.7" r="3.6"/><circle cx="418.4" cy="294.3" r="3.6"/><circle cx="413.9" cy="306.3" r="3.6"/><circle cx="393.4" cy="309.6" r="3.6"/><circle cx="422.3" cy="309.6" r="3.6"/><circle cx="412.5" cy="310.4" r="3.6"/><circle cx="398.0" cy="324.0" r="3.6"/><circle cx="407.1" cy="310.6" r="3.6"/><circle cx="400.4" cy="329.8" r="3.6"/><circle cx="422.3" cy="302.2" r="3.6"/><circle cx="429.6" cy="301.0" r="3.6"/><circle cx="404.3" cy="311.9" r="3.6"/><circle cx="405.6" cy="291.8" r="3.6"/><circle cx="403.7" cy="313.0" r="3.6"/><circle cx="419.2" cy="307.1" r="3.6"/><circle cx="415.2" cy="296.1" r="3.6"/><circle cx="394.3" cy="310.5" r="3.6"/><circle cx="401.7" cy="321.7" r="3.6"/><circle cx="391.9" cy="316.0" r="3.6"/><circle cx="385.0" cy="314.1" r="3.6"/><circle cx="399.6" cy="323.5" r="3.6"/><circle cx="396.8" cy="318.4" r="3.6"/><circle cx="401.2" cy="317.0" r="3.6"/><circle cx="389.2" cy="314.7" r="3.6"/><circle cx="391.4" cy="312.9" r="3.6"/><circle cx="389.9" cy="323.7" r="3.6"/></g>
<rect x="299.6" y="246.5" width="181.40" height="185.40" fill="none" stroke="#000" stroke-width="1.2"/>
<path d="M299.60 431.9v5M299.6 431.90h-5M344.95 431.9v5M299.6 385.55h-5M390.30 431.9v5M299.6 339.20h-5M435.65 431.9v5M299.6 292.85h-5M481.00 431.9v5M299.6 246.50h-5" stroke="#000" stroke-width="1.1"/>
<path d="M313.25 431.9v3M299.6 417.95h-3M321.24 431.9v3M299.6 409.79h-3M326.90 431.9v3M299.6 403.99h-3M331.30 431.9v3M299.6 399.50h-3M334.89 431.9v3M299.6 395.83h-3M337.93 431.9v3M299.6 392.73h-3M340.56 431.9v3M299.6 390.04h-3M342.87 431.9v3M299.6 387.67h-3M358.60 431.9v3M299.6 371.60h-3M366.59 431.9v3M299.6 363.44h-3M372.25 431.9v3M299.6 357.64h-3M376.65 431.9v3M299.6 353.15h-3M380.24 431.9v3M299.6 349.48h-3M383.28 431.9v3M299.6 346.38h-3M385.91 431.9v3M299.6 343.69h-3M388.22 431.9v3M299.6 341.32h-3M403.95 431.9v3M299.6 325.25h-3M411.94 431.9v3M299.6 317.09h-3M417.60 431.9v3M299.6 311.29h-3M422.00 431.9v3M299.6 306.80h-3M425.59 431.9v3M299.6 303.13h-3M428.63 431.9v3M299.6 300.03h-3M431.26 431.9v3M299.6 297.34h-3M433.57 431.9v3M299.6 294.97h-3M449.30 431.9v3M299.6 278.90h-3M457.29 431.9v3M299.6 270.74h-3M462.95 431.9v3M299.6 264.94h-3M467.35 431.9v3M299.6 260.45h-3M470.94 431.9v3M299.6 256.78h-3M473.98 431.9v3M299.6 253.68h-3M476.61 431.9v3M299.6 250.99h-3M478.92 431.9v3M299.6 248.62h-3" stroke="#000" stroke-width="0.8"/>
<g transform="translate(284.62 451.70) scale(1.0364 1)"><text font-size="10.9">10</text></g>
<g transform="translate(298.14 447.80) scale(1.1216 1)"><text font-size="8.0">−15</text></g>
<g transform="translate(329.97 451.70) scale(1.0364 1)"><text font-size="10.9">10</text></g>
<g transform="translate(343.49 447.80) scale(1.1216 1)"><text font-size="8.0">−14</text></g>
<g transform="translate(375.32 451.70) scale(1.0364 1)"><text font-size="10.9">10</text></g>
<g transform="translate(388.84 447.80) scale(1.1216 1)"><text font-size="8.0">−13</text></g>
<g transform="translate(420.67 451.70) scale(1.0364 1)"><text font-size="10.9">10</text></g>
<g transform="translate(434.19 447.80) scale(1.1216 1)"><text font-size="8.0">−12</text></g>
<g transform="translate(466.02 451.70) scale(1.0364 1)"><text font-size="10.9">10</text></g>
<g transform="translate(479.50 447.80) scale(1.1917 1)"><text font-size="8.0">−11</text></g>
<g transform="translate(346.68 472.60) scale(1.0909 1)"><text font-size="12.6" font-style="italic">C</text></g>
<g transform="translate(355.67 474.60) scale(0.9273 1)"><text font-size="10.6" font-style="italic">nn</text></g>
<g transform="translate(371.20 472.60) scale(0.9000 1)"><text font-size="12.6">EC</text></g>
<g transform="translate(390.70 472.60) scale(1.2000 1)"><text font-size="12.6">[m</text></g>
<g transform="translate(407.51 467.80) scale(1.1824 1)"><text font-size="9.1">−2/3</text></g>
<g transform="translate(430.00 472.60) scale(1.2000 1)"><text font-size="12.6">]</text></g>
<g transform="translate(309.12 264.80) scale(1.1636 1)"><text font-size="11.6" font-weight="bold">(d)</text></g>
<rect x="396.90" y="366.00" width="79.40" height="61.00" rx="4.5" fill="#fff" fill-opacity="0.8" stroke="#2f7fbf" stroke-width="1.5"/>
<g transform="translate(426.69 380.00) scale(1.2209 1)"><text font-size="10.2"><tspan font-style="italic">n</tspan> = 258</text></g>
<g transform="translate(403.79 392.00) scale(1.0828 1)"><text font-size="10.2">RMBE = 0.25</text></g>
<g transform="translate(411.83 405.40) scale(1.1667 1)"><text font-size="10.2">IQR = 0.83</text></g>
<g transform="translate(425.89 416.70) scale(1.2471 1)"><text font-size="10.2"><tspan font-style="italic">r</tspan> = 0.37</text></g>
</svg></body></html>
